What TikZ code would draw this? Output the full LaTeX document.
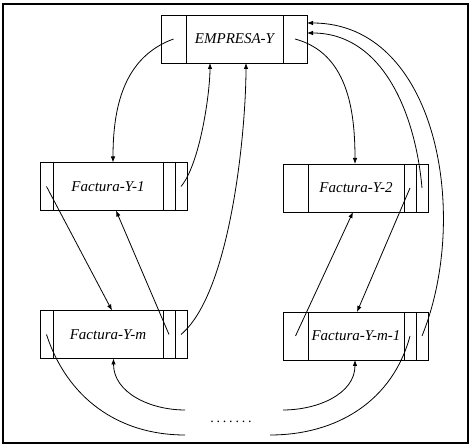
\documentclass[tikz,border=0pt]{standalone}
\usepackage{fontspec}
\setmainfont{Liberation Serif}
\usetikzlibrary{arrows.meta, positioning}
\tikzset{
  cell/.style={
    rectangle, draw=black, line width=0.9pt,
    outer sep=0pt, inner sep=0pt,
    minimum height=48pt, minimum width=#1
  },
  rec/.style={cell=#1, font=\fontsize{15}{17}\selectfont\itshape},
  arr/.style={line width=0.8pt, -{Latex[length=6pt,width=4.5pt]}},
  ln/.style={line width=0.8pt}
}

\begin{document}
\begin{tikzpicture}[x=1pt, y=1pt]
  \useasboundingbox (0,0) rectangle (472,446);
  \draw[line width=1.3pt] (3,3) rectangle (468,442);

  % registro de la empresa
  \node[rec=97pt] (emp) at (234.5,407) {EMPRESA-Y};
  \node[cell=25pt, left=0pt of emp]  (emp-l) {};
  \node[cell=24pt, right=0pt of emp] (emp-r) {};

  % facturas de la izquierda
  \node[rec=110pt] (fac1) at (108,259.5) {Factura-Y-1};
  \node[cell=13pt, left=0pt of fac1]    (fac1-l) {};
  \node[cell=12pt, right=0pt of fac1]   (fac1-a) {};
  \node[cell=12pt, right=0pt of fac1-a] (fac1-b) {};

  \node[rec=110pt, below=100pt of fac1] (facm) {Factura-Y-m};
  \node[cell=13pt, left=0pt of facm]    (facm-l) {};
  \node[cell=12pt, right=0pt of facm]   (facm-a) {};
  \node[cell=12pt, right=0pt of facm-a] (facm-b) {};

  % facturas de la derecha
  \node[rec=96pt] (fac2) at (356,258) {Factura-Y-2};
  \node[cell=25pt, left=0pt of fac2]    (fac2-l) {};
  \node[cell=12pt, right=0pt of fac2]   (fac2-a) {};
  \node[cell=12pt, right=0pt of fac2-a] (fac2-b) {};

  \node[rec=96pt, below=100pt of fac2] (facm1) {Factura-Y-m-1};
  \node[cell=25pt, left=0pt of facm1]     (facm1-l) {};
  \node[cell=12pt, right=0pt of facm1]    (facm1-a) {};
  \node[cell=12pt, right=0pt of facm1-a]  (facm1-b) {};

  % extremos sueltos abajo
  \coordinate (izq-a) at (185,11);
  \coordinate (izq-b) at (185,36);
  \coordinate (der-a) at (270,11);
  \coordinate (der-b) at (283,36);
  \node[font=\fontsize{14}{16}\selectfont\addfontfeature{LetterSpace=20}]
    (puntos) at (231,24) {.......};

  % punteros empresa <-> facturas
  \draw[arr] (emp-l.center) to[out=200, in=90] ([xshift=5pt]fac1.north);
  \draw[arr] (emp-r.center) to[out=-15, in=90] ([xshift=-1pt]fac2.north);
  \draw[arr] (fac1-b.center) to[out=50, in=-90, looseness=0.6] ([xshift=-24.5pt]emp.south);
  \draw[arr] (facm-b.center) to[out=40, in=-90, looseness=0.6] ([xshift=11.5pt]emp.south);
  \draw[arr] (fac2-b.center) to[out=95, in=0] ([yshift=6pt]emp-r.east);
  \draw[arr] (facm1-b.center) to[out=68, in=0] ([yshift=16pt]emp-r.east);

  % punteros entre facturas
  \draw[arr] (fac1-l.center) -- ([xshift=4pt]facm.north);
  \draw[arr] (facm-a.center) -- ([xshift=8pt]fac1.south);
  \draw[arr] (fac2-a.center) -- ([xshift=1pt]facm1.north);
  \draw[arr] (facm1-l.center) -- ([xshift=-3pt]fac2.south);

  % cadena hacia las demas facturas
  \draw[ln] (facm-l.center) to[out=-72, in=180] (izq-a);
  \draw[ln] (facm1-a.center) to[out=-105, in=0] (der-a);
  \draw[arr] (izq-b) to[out=180, in=-90] ([xshift=5.5pt]facm.south);
  \draw[arr] (der-b) to[out=0, in=-90] ([xshift=-1pt]facm1.south);
\end{tikzpicture}
\end{document}
